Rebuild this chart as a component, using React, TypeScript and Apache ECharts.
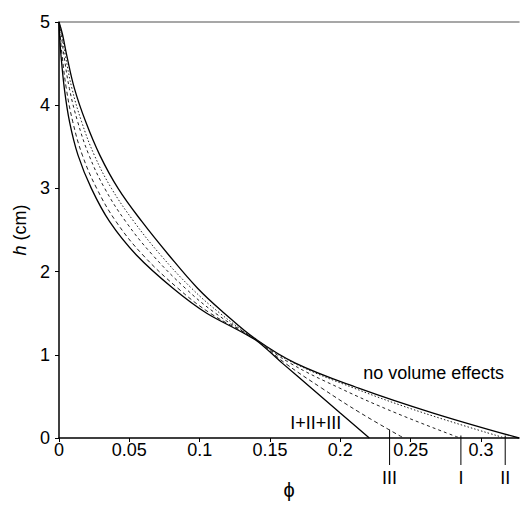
import { useEffect, useRef } from 'react';
import * as echarts from 'echarts';

// h levels (cm) at which each curve's volume fraction phi was read
const hLevels = [5, 4.85, 4.6, 4.2, 3.8, 3.4, 3.0, 2.6, 2.2, 1.8, 1.5, 1.18, 0.9, 0.6, 0.3, 0];

// phi values for each curve at the h levels above
const phiNoVolume = [0, 0.0025, 0.0055, 0.011, 0.019, 0.029, 0.042, 0.059, 0.078, 0.0985, 0.1175, 0.1405, 0.168, 0.213, 0.266, 0.327];
const phiII = [0, 0.002, 0.0045, 0.0092, 0.0161, 0.0251, 0.0373, 0.0533, 0.0722, 0.0942, 0.1144, 0.14, 0.1671, 0.2096, 0.2594, 0.317];
const phiI = [0, 0.0015, 0.0035, 0.0074, 0.0133, 0.0213, 0.0325, 0.0475, 0.0665, 0.0898, 0.1112, 0.14, 0.1643, 0.1995, 0.2396, 0.285];
const phiIII = [0, 0.0008, 0.0022, 0.0052, 0.0098, 0.0166, 0.0268, 0.0406, 0.0596, 0.0845, 0.1075, 0.14, 0.1607, 0.1867, 0.2144, 0.245];
const phiAll = [0, 0.0004, 0.0014, 0.0038, 0.0075, 0.0135, 0.023, 0.036, 0.055, 0.081, 0.105, 0.1395, 0.1587, 0.1793, 0.1999, 0.2206];

const xTicks = [0, 0.05, 0.1, 0.15, 0.2, 0.25, 0.3];
const xTickLabels = ['0', '0.05', '0.1', '0.15', '0.2', '0.25', '0.3'];
const yTicks = [0, 1, 2, 3, 4, 5];

const markerPhi = [0.235, 0.2857, 0.3172];
const markerTopH = [0.1, 0.03, 0.03];
const markerLabels = ['III', 'I', 'II'];

const FONT = '"Liberation Sans", Arial, Helvetica, sans-serif';

export default function App() {
  const ref = useRef<HTMLDivElement>(null);

  useEffect(() => {
    document.body.style.margin = '0';
    const chart = echarts.init(ref.current!, null, { renderer: 'svg' });
    const mk = (phis: number[]) => hLevels.map((h, i) => [phis[i], h]);
    const line = (name: string, phis: number[], style: any, smooth: number) => ({
      type: 'line',
      name,
      data: mk(phis),
      symbol: 'none',
      showSymbol: false,
      smooth,
      clip: false,
      lineStyle: style,
      z: 3,
    });

    chart.setOption({
      animation: false,
      grid: { left: 59, right: 1, top: 22, bottom: 61, containLabel: false },
      xAxis: [
        {
          type: 'value',
          min: 0,
          max: 0.327,
          interval: 0.05,
          name: 'ϕ',
          nameLocation: 'middle',
          nameGap: 42,
          nameTextStyle: { fontSize: 20, color: '#000', fontFamily: FONT },
          axisLine: { show: true, lineStyle: { color: '#000', width: 1.5 } },
          axisTick: { show: true, length: 4, customValues: xTicks, lineStyle: { color: '#000', width: 1 } },
          axisLabel: {
            customValues: xTicks,
            formatter: (v: number) => {
              const i = xTicks.findIndex((t) => Math.abs(t - v) < 1e-9);
              return i >= 0 ? xTickLabels[i] : '';
            },
            fontSize: 18,
            color: '#000',
            fontFamily: FONT,
            margin: 3,
          },
          splitLine: { show: false },
        },
        {
          type: 'value',
          position: 'top',
          min: 0,
          max: 0.327,
          axisLine: { show: true, lineStyle: { color: '#8a8a8a', width: 1.5 } },
          axisTick: { show: false },
          axisLabel: { show: false },
          splitLine: { show: false },
        },
      ],
      yAxis: {
        type: 'value',
        min: 0,
        max: 5,
        interval: 1,
        name: '{i|h} (cm)',
        nameLocation: 'middle',
        nameGap: 24,
        nameTextStyle: {
          fontSize: 18,
          color: '#000',
          fontFamily: FONT,
          rich: { i: { fontStyle: 'italic', fontSize: 18, color: '#000', fontFamily: FONT } },
        },
        axisLine: { show: true, lineStyle: { color: '#000', width: 1.5 } },
        axisTick: { show: true, length: 4, customValues: yTicks, lineStyle: { color: '#000', width: 1 } },
        axisLabel: { customValues: yTicks, fontSize: 18, color: '#000', fontFamily: FONT, margin: 9 },
        splitLine: { show: false },
      },
      series: [
        line('no volume effects', phiNoVolume, { color: '#000', width: 1.3, type: 'solid' }, 0.4),
        line('II', phiII, { color: '#222', width: 1, type: [1.5, 2] }, 0.4),
        line('I', phiI, { color: '#222', width: 1, type: [3, 3] }, 0.4),
        line('III', phiIII, { color: '#222', width: 1, type: [4, 3] }, 0.4),
        line('I+II+III', phiAll, { color: '#000', width: 1.3, type: 'solid' }, 0.25),
      ],
    });

    const px = (p: number, h: number) => chart.convertToPixel({ xAxisIndex: 0, yAxisIndex: 0 }, [p, h]) as number[];
    const axisY = px(0, 0)[1];
    const graphics: any[] = [];
    markerPhi.forEach((p, i) => {
      const top = px(p, markerTopH[i]);
      graphics.push({
        type: 'line',
        shape: { x1: top[0], y1: top[1], x2: top[0], y2: axisY + 27 },
        style: { stroke: '#000', lineWidth: 1 },
      });
      graphics.push({
        type: 'text',
        x: top[0],
        y: axisY + 40,
        style: { text: markerLabels[i], fill: '#000', font: `18px ${FONT}`, align: 'center', verticalAlign: 'middle' },
      });
    });
    const nv = px(0.2163, 0.776);
    graphics.push({
      type: 'text',
      x: nv[0],
      y: nv[1],
      style: { text: 'no volume effects', fill: '#000', font: `18px ${FONT}`, align: 'left', verticalAlign: 'middle' },
    });
    const all = px(0.1643, 0.18);
    graphics.push({
      type: 'text',
      x: all[0],
      y: all[1],
      style: { text: 'I+II+III', fill: '#000', font: `18px ${FONT}`, align: 'left', verticalAlign: 'middle' },
    });
    chart.setOption({ graphic: graphics });

    return () => chart.dispose();
  }, []);

  return <div ref={ref} style={{ width: 520, height: 505 }} />;
}
